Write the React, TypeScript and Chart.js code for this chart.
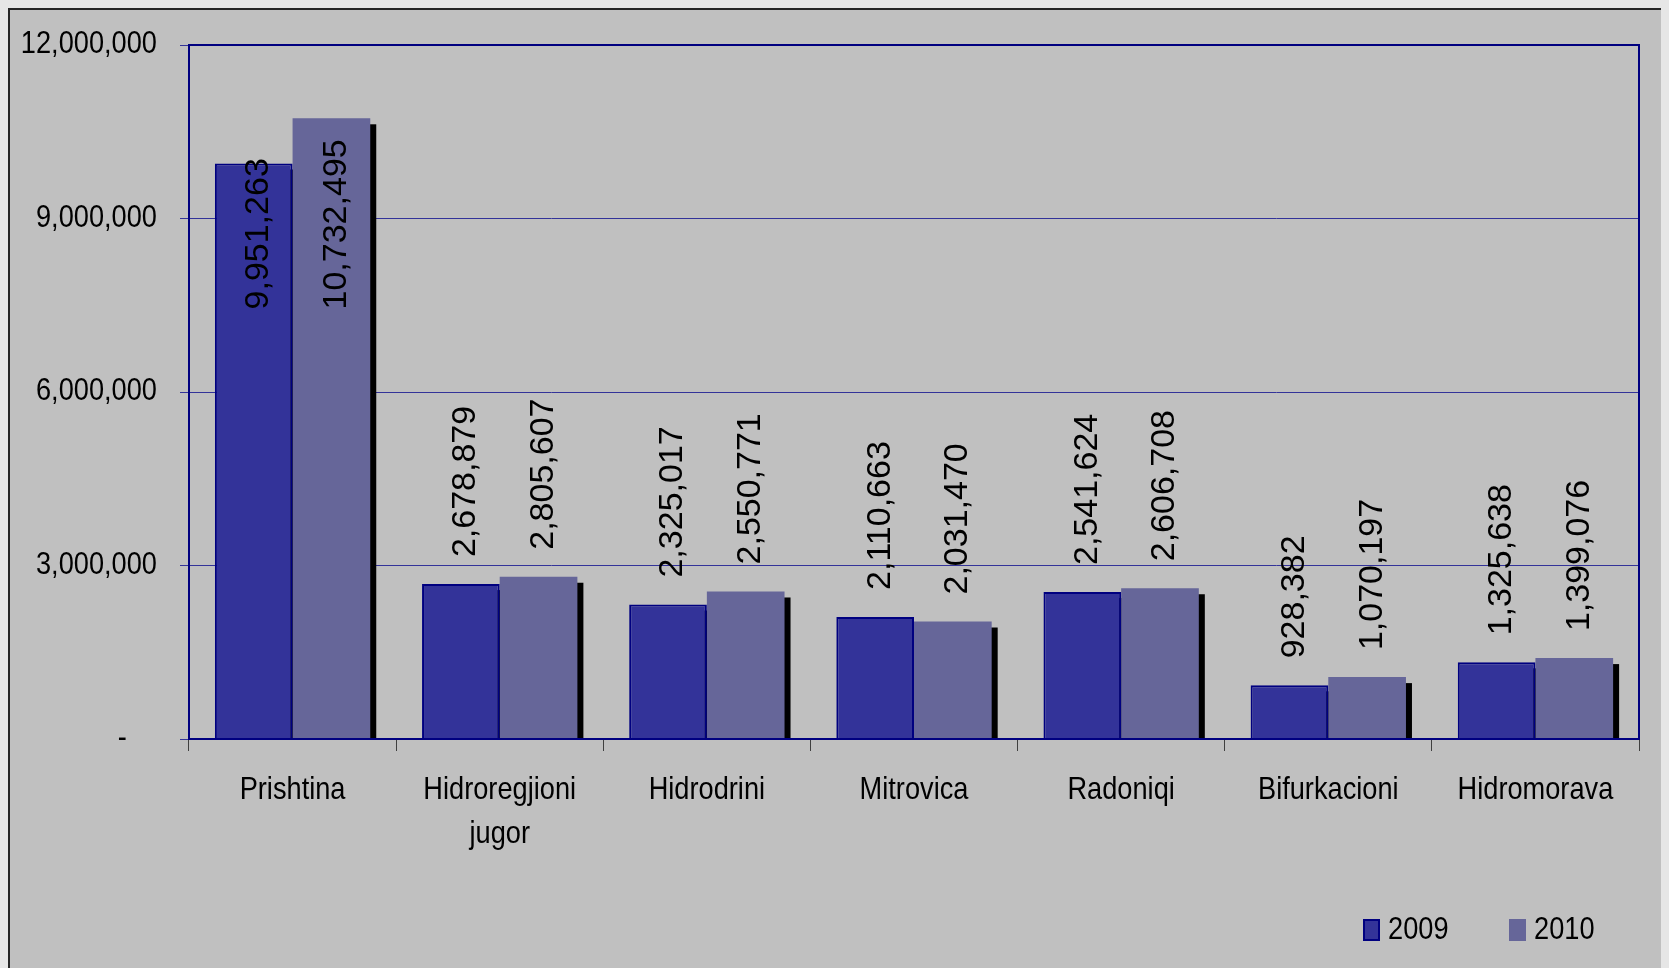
import React, { useEffect, useRef } from "react";
import { Chart, registerables } from "chart.js";

Chart.register(...registerables);

const categories: (string | string[])[] = [
  "Prishtina",
  ["Hidroregjioni", "jugor"],
  "Hidrodrini",
  "Mitrovica",
  "Radoniqi",
  "Bifurkacioni",
  "Hidromorava",
];
const seriesNames = ["2009", "2010"];
const values2009 = [9951263, 2678879, 2325017, 2110663, 2541624, 928382, 1325638];
const values2010 = [10732495, 2805607, 2550771, 2031470, 2606708, 1070197, 1399076];
const yTickValues = [0, 3000000, 6000000, 9000000, 12000000];

const REGULAR = "'Liberation Sans', Arial, sans-serif";
const NARROW_FONT = "32px " + REGULAR;
const NARROW_SCALE = 0.85;
const COLORS = ["#333399", "#666699"];
const NAVY = "#000080";

const fmt = (v: number) => v.toLocaleString("en-US");
const yLabel = (v: number) => (v === 0 ? "-    " : fmt(v));

function narrowText(ctx: any, text: string, x: number, y: number, align: string) {
  ctx.save();
  ctx.translate(x, y);
  ctx.scale(NARROW_SCALE, 1);
  ctx.textAlign = align;
  ctx.fillText(text, 0, 0);
  ctx.restore();
}

const framePlugin = {
  id: "frame",
  beforeDraw(chart: any) {
    const { ctx, width, height } = chart;
    ctx.save();
    ctx.fillStyle = "#c0c0c0";
    ctx.fillRect(0, 0, width, height);
    ctx.strokeStyle = "#262626";
    ctx.lineWidth = 2;
    ctx.strokeRect(1, 1, width - 2, height - 2);
    ctx.restore();
  },
  beforeDatasetsDraw(chart: any) {
    const { ctx } = chart;
    ctx.save();
    ctx.fillStyle = "#000000";
    chart.data.datasets.forEach((_: any, di: number) => {
      const meta = chart.getDatasetMeta(di);
      meta.data.forEach((bar: any) => {
        const p = bar.getProps(["x", "y", "width", "base"], true);
        const left = p.x - p.width / 2 + 6;
        ctx.fillRect(left, p.y + 6, p.width, p.base - p.y - 6);
      });
    });
    ctx.restore();
  },
  afterDatasetsDraw(chart: any) {
    const { ctx, chartArea, scales } = chart;
    ctx.save();
    // plot border
    ctx.strokeStyle = NAVY;
    ctx.lineWidth = 2;
    ctx.strokeRect(chartArea.left, chartArea.top, chartArea.right - chartArea.left, chartArea.bottom - chartArea.top);

    // axis tick labels (narrow)
    ctx.fillStyle = "#000000";
    ctx.font = NARROW_FONT;
    ctx.textBaseline = "alphabetic";
    const ys = scales.y;
    ys.ticks.forEach((t: any, i: number) => {
      const py = ys.getPixelForTick(i);
      narrowText(ctx, yLabel(t.value), chartArea.left - 32, py + 8, "right");
    });
    const xs = scales.x;
    chart.data.labels.forEach((lab: any, i: number) => {
      const px = xs.getPixelForValue(i);
      const lines = Array.isArray(lab) ? lab : [lab];
      lines.forEach((ln: string, j: number) => {
        narrowText(ctx, ln, px, chartArea.bottom + 60 + j * 44, "center");
      });
    });

    // data labels
    ctx.font = "34px " + REGULAR;
    ctx.textBaseline = "middle";
    ctx.textAlign = "left";
    const n = chart.data.labels.length;
    for (let i = 0; i < n; i++) {
      const items: any[] = [];
      chart.data.datasets.forEach((ds: any, di: number) => {
        const bar = chart.getDatasetMeta(di).data[i];
        const p = bar.getProps(["x", "y"], true);
        const text = fmt(ds.data[i]);
        const w = ctx.measureText(text).width;
        let bottom = p.y - 27;
        let over = false;
        if (bottom - w < chartArea.top) {
          over = true;
          bottom = p.y + 21 + w;
        }
        items.push({ x: p.x, text, w, bottom, over });
      });
      const overs = items.filter((it) => it.over);
      if (overs.length) {
        const common = Math.min(...overs.map((it) => it.bottom));
        overs.forEach((it) => (it.bottom = common));
      }
      items.forEach((it) => {
        ctx.save();
        ctx.translate(it.x + 5, it.bottom);
        ctx.rotate(-Math.PI / 2);
        ctx.fillText(it.text, 0, 0);
        ctx.restore();
      });
    }

    // legend
    const baseX = chartArea.right - 276;
    const ly = chartArea.bottom + 180;
    ctx.font = NARROW_FONT;
    ctx.textBaseline = "alphabetic";
    seriesNames.forEach((name, i) => {
      const x = baseX + i * 146;
      ctx.fillStyle = COLORS[i];
      ctx.fillRect(x, ly, 17, 22);
      if (i === 0) {
        ctx.strokeStyle = NAVY;
        ctx.lineWidth = 2;
        ctx.strokeRect(x + 1, ly + 1, 15, 20);
      }
      ctx.fillStyle = "#000000";
      narrowText(ctx, name, x + 25, ly + 20, "left");
    });
    ctx.restore();
  },
};

export default function App() {
  const ref = useRef<HTMLCanvasElement>(null);
  useEffect(() => {
    document.body.style.overflow = "hidden";
    document.body.style.background = "#e6e6e6";
    const chart = new Chart(ref.current!, {
      type: "bar",
      data: {
        labels: categories as any,
        datasets: [
          {
            label: seriesNames[0],
            data: values2009,
            backgroundColor: COLORS[0],
            borderColor: NAVY,
            borderWidth: 2,
          },
          {
            label: seriesNames[1],
            data: values2010,
            backgroundColor: COLORS[1],
            borderWidth: 0,
          },
        ],
      },
      options: {
        animation: false,
        responsive: false,
        devicePixelRatio: 1,
        layout: { padding: { top: 37, right: 39, left: 0, bottom: 134 } },
        plugins: { legend: { display: false }, tooltip: { enabled: false } },
        datasets: { bar: { categoryPercentage: 0.75, barPercentage: 1 } },
        scales: {
          x: {
            afterFit: (s: any) => {
              s.height = 100;
            },
            grid: {
              offset: true,
              drawOnChartArea: false,
              drawTicks: true,
              tickLength: 12,
              color: "#404040",
              lineWidth: 1,
            },
            border: { display: false },
            ticks: { display: false, autoSkip: false },
          },
          y: {
            min: 0,
            max: 12000000,
            afterFit: (s: any) => {
              s.width = 181;
            },
            afterBuildTicks: (s: any) => {
              s.ticks = yTickValues.map((v) => ({ value: v }));
            },
            grid: {
              color: "#333399",
              lineWidth: 1,
              drawTicks: true,
              tickLength: 9,
            },
            border: { display: false },
            ticks: { display: false },
          },
        },
      },
      plugins: [framePlugin],
    });
    return () => chart.destroy();
  }, []);
  return (
    <div style={{ width: 1670, height: 965 }}>
      <canvas ref={ref} width={1670} height={965} style={{ display: "block" }} />
    </div>
  );
}
